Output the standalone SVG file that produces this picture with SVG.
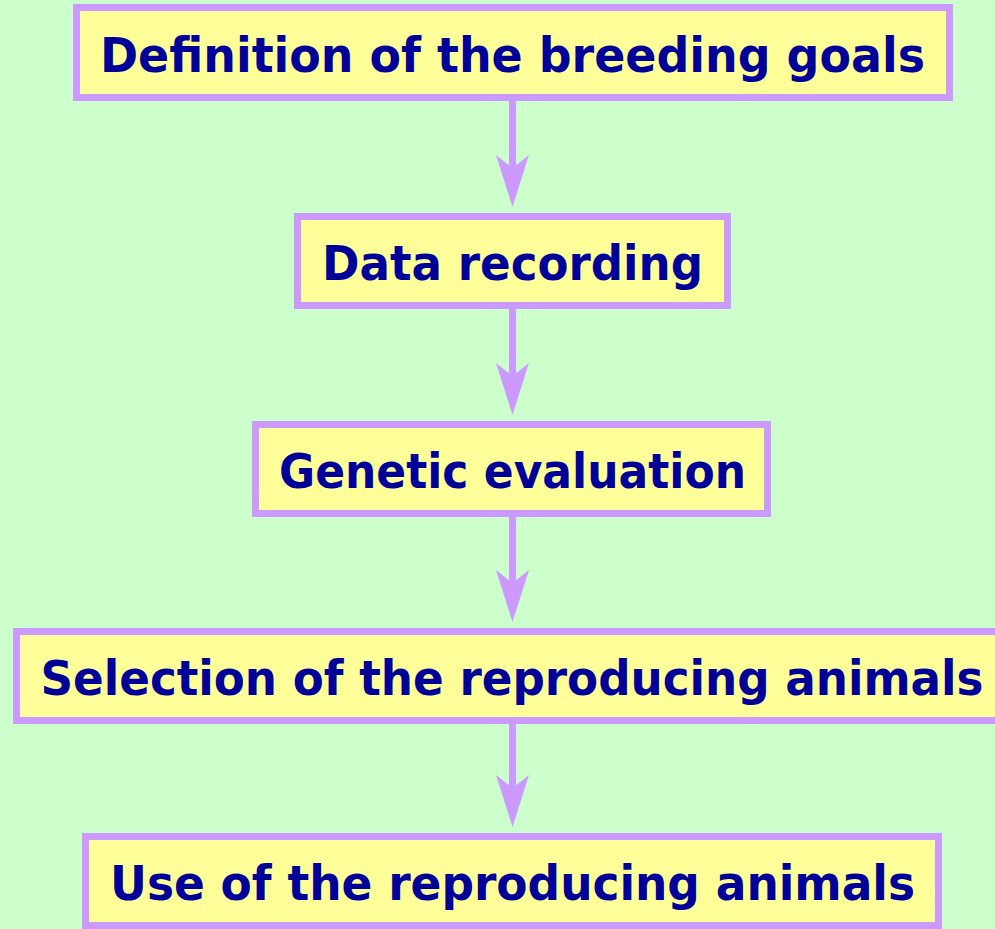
<svg xmlns="http://www.w3.org/2000/svg" width="995" height="929" viewBox="0 0 995 929">
<style>
.box{fill:#FFFF99;stroke:#CC99FF;stroke-width:7}
.lbl{font-family:"DejaVu Sans","Liberation Sans",sans-serif;font-weight:bold;font-size:48px;fill:#000099;text-anchor:middle}
.conn{stroke:#CC99FF;stroke-width:7;fill:none;marker-end:url(#ah)}
</style>
<defs>
<marker id="ah" markerUnits="userSpaceOnUse" viewBox="0 0 52 33" refX="14" refY="16.5" markerWidth="52" markerHeight="33" orient="auto">
<path d="M52,16.5 L0,0 L13,16.5 L0,33 Z" fill="#CC99FF"/>
</marker>
</defs>
<rect width="995" height="929" fill="#CCFFCC"/>
<g id="connectors">
<line class="conn" x1="512.5" y1="101" x2="512.5" y2="169"/>
<line class="conn" x1="512.5" y1="309" x2="512.5" y2="377"/>
<line class="conn" x1="512.5" y1="517" x2="512.5" y2="584"/>
<line class="conn" x1="512.5" y1="724" x2="512.5" y2="789"/>
</g>
<g id="n1">
<rect class="box" x="76.5" y="7.5" width="873" height="90"/>
<text class="lbl" x="512.5" y="72" textLength="825" lengthAdjust="spacingAndGlyphs">Definition of the breeding goals</text>
</g>
<g id="n2">
<rect class="box" x="297.5" y="216.5" width="430" height="89"/>
<text class="lbl" x="512.5" y="280" textLength="381" lengthAdjust="spacingAndGlyphs">Data recording</text>
</g>
<g id="n3">
<rect class="box" x="255.5" y="424.5" width="512" height="89"/>
<text class="lbl" x="512.5" y="488" textLength="467" lengthAdjust="spacingAndGlyphs">Genetic evaluation</text>
</g>
<g id="n4">
<rect class="box" x="16.5" y="631.5" width="993" height="89"/>
<text class="lbl" x="512" y="695" textLength="943" lengthAdjust="spacingAndGlyphs">Selection of the reproducing animals</text>
</g>
<g id="n5">
<rect class="box" x="85.5" y="836.5" width="853" height="89"/>
<text class="lbl" x="512.5" y="900" textLength="805" lengthAdjust="spacingAndGlyphs">Use of the reproducing animals</text>
</g>
</svg>
